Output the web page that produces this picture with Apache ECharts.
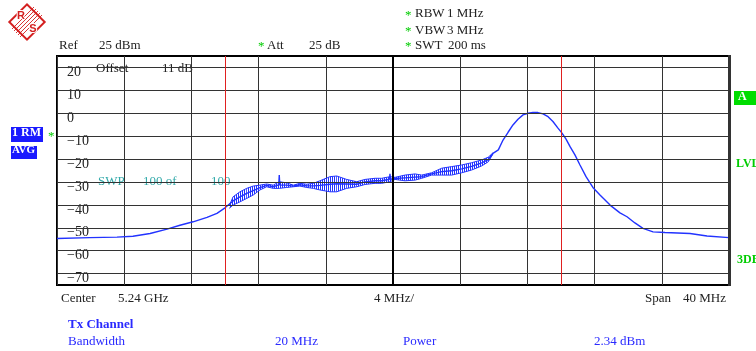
<!DOCTYPE html>
<html>
<head>
<meta charset="utf-8">
<script src="https://cdn.jsdelivr.net/npm/echarts@6/dist/echarts.min.js"></script>
<style>
  html, body { margin: 0; padding: 0; background: #fff; }
  #chart { width: 756px; height: 351px; }
</style>
</head>
<body>
<div id="chart"></div>
<script>
// Spectrum trace: offset from centre frequency (MHz) and level (dBm)
const traceFreq = [-20, -18.04, -16.43, -15.48, -14.46, -13.45, -12.68, -11.90, -11.07, -10.48,
  -10.0, -9.52, -9.11, -8.71, -8.32, -7.92, -7.52, -7.13, -6.80, -6.77, -6.74, -6.33, -5.93,
  -5.54, -5.14, -4.74, -4.35, -3.75, -3.35, -2.76, -2.16, -1.67, -1.07, -0.67, -0.21, -0.18,
  -0.15, 0.12, 0.71, 1.31, 1.71, 2.30, 2.90, 3.49, 4.09, 4.68, 5.28, 5.67, 5.95, 6.27, 6.55,
  6.85, 7.14, 7.44, 7.74, 8.04, 8.33, 8.63, 8.93, 9.23, 9.52, 9.82, 10.06, 10.30, 10.54, 10.83,
  11.13, 11.49, 11.90, 12.32, 12.92, 13.51, 13.93, 14.40, 14.88, 15.48, 16.19, 17.68, 18.69, 20.0];
const traceLevel = [-54.7, -54.3, -54.1, -53.7, -52.5, -50.6, -48.9, -47.4, -45.5, -43.7,
  -41.3, -38.3, -36.5, -35.0, -33.8, -32.5, -31.5, -32.1, -31.3, -27.0, -31.3, -31.4, -31.8,
  -31.2, -31.7, -31.7, -31.5, -31.0, -30.8, -30.9, -31.0, -30.0, -29.5, -29.5, -28.8, -26.5,
  -28.8, -28.5, -28.2, -27.9, -27.7, -26.5, -25.5, -25.1, -24.3, -23.2, -21.7, -20.2, -17.5, -16.0, -11.7,
  -8.3, -5.1, -2.6, -0.7, 0.0, 0.3, 0.3, -0.3, -1.5, -3.6, -6.5, -8.7, -11.3, -14.6, -18.2,
  -22.6, -27.7, -32.4, -35.7, -40.1, -43.5, -45.2, -47.9, -50.3, -51.8, -52.1, -52.5, -53.6, -54.3];

// Sweep-to-sweep spread of the averaged trace (min / max per frequency)
const bandFreq = [-9.75, -9.52, -9.11, -8.71, -8.32, -7.92, -7.52, -7.13, -6.77, -6.33, -5.93,
  -5.54, -5.14, -4.74, -4.35, -3.75, -3.35, -2.76, -2.16, -1.67, -1.07, -0.67, -0.18, 0.12,
  0.71, 1.31, 1.71, 2.30, 2.90, 3.49, 4.09, 4.68, 5.28, 5.67, 5.95];
const bandLow = [-41.5, -40.1, -38.7, -37.2, -35.7, -33.5, -32.1, -32.8, -32.8, -32.4, -32.1,
  -31.8, -32.4, -32.8, -33.5, -34.3, -34.3, -32.8, -32.1, -31.1, -30.6, -30.6, -29.9, -28.9,
  -29.5, -29.2, -28.4, -27.0, -27.0, -27.0, -26.0, -24.8, -23.0, -21.2, -17.8];
const bandHigh = [-40.5, -36.5, -34.3, -32.8, -31.8, -31.4, -30.9, -31.4, -29.9, -30.4, -31.4,
  -30.6, -31.0, -30.6, -29.5, -27.7, -27.4, -28.9, -29.9, -28.9, -28.4, -28.4, -27.7, -28.0,
  -27.0, -26.5, -27.0, -26.0, -24.0, -23.3, -22.6, -21.6, -20.4, -19.2, -17.3];

// Display scale
const levelTicks = [20, 10, 0, -10, -20, -30, -40, -50, -60, -70];
const channelEdges = [-10, 10];
const refLevel = 25;
const bottomLevel = -75;

const TRACE = '#2233ff';
const GREEN = '#00cc00';
const TEXT = '#222';
const FONT = 'Liberation Serif';
const LOGO = '#d42020';

// vertical hatch used to fill the spread band
const hatch = document.createElement('canvas');
hatch.width = 2; hatch.height = 2;
const hctx = hatch.getContext('2d');
hctx.fillStyle = TRACE;
hctx.fillRect(0, 0, 1, 2);

function txt(x, y, s, color, extra) {
  return {
    type: 'text', left: x, top: y - 8,
    style: Object.assign({ text: s, fill: color || TEXT, font: '13px "' + FONT + '"' }, extra || {})
  };
}

// diagonal stripes of the logo
const stripes = [];
for (const d of [-4, -2, 0, 2, 4]) {
  stripes.push({ type: 'line', shape: { x1: 11 + d, y1: -11 + d, x2: -11 + d, y2: 11 + d },
    style: { stroke: LOGO, lineWidth: 0.9 } });
}

const graphics = [
  // R&S logo
  { type: 'group', x: 27, y: 22, children: [
    { type: 'rect', rotation: Math.PI / 4, shape: { x: -12.5, y: -12.5, width: 25, height: 25 },
      style: { fill: '#fff', stroke: LOGO, lineWidth: 2 } }
  ].concat(stripes).concat([
    { type: 'text', x: -6, y: -6, style: { text: 'R', fill: LOGO, font: 'bold 11px "Liberation Sans"', align: 'center', verticalAlign: 'middle', stroke: '#fff', lineWidth: 2 } },
    { type: 'text', x: 6, y: 7, style: { text: 'S', fill: LOGO, font: 'bold 11px "Liberation Sans"', align: 'center', verticalAlign: 'middle', stroke: '#fff', lineWidth: 2 } }
  ]) },
  // setup readouts
  txt(405, 17, '*', GREEN), txt(415, 15, 'RBW'), txt(447, 15, '1 MHz'),
  txt(405, 33, '*', GREEN), txt(415, 32, 'VBW'), txt(447, 32, '3 MHz'),
  txt(405, 48, '*', GREEN), txt(415, 47, 'SWT'), txt(448, 47, '200 ms'),
  txt(59, 47, 'Ref'), txt(99, 47, '25 dBm'),
  txt(258, 48, '*', GREEN), txt(267, 47, 'Att'), txt(309, 47, '25 dB'),
  txt(96, 70, 'Offset'), txt(162, 70, '11 dB'),
  txt(98, 183, 'SWP', '#33aaaa'), txt(143, 183, '100 of', '#33aaaa'), txt(211, 183, '100', '#33aaaa'),
  // trace indicator boxes
  { type: 'rect', left: 11, top: 127, shape: { width: 32, height: 15 }, style: { fill: '#1a1aff' } },
  txt(12, 135, '1 RM', '#fff', { font: 'bold 12px "' + FONT + '"' }),
  { type: 'rect', left: 11, top: 146, shape: { width: 26, height: 13 }, style: { fill: '#1a1aff' } },
  txt(12, 153, 'AVG', '#fff', { font: 'bold 11px "' + FONT + '"' }),
  txt(48, 138, '*', GREEN),
  { type: 'rect', left: 734, top: 91, shape: { width: 22, height: 14 }, style: { fill: '#00dd00' } },
  txt(738, 99, 'A', '#fff', { font: 'bold 12px "' + FONT + '"' }),
  txt(736, 166, 'LVL', GREEN, { font: 'bold 12px "' + FONT + '"' }),
  txt(737, 262, '3DB', GREEN, { font: 'bold 12px "' + FONT + '"' }),
  // heavier right-hand frame edge
  { type: 'rect', left: 728, top: 55, shape: { width: 3, height: 231 }, style: { fill: '#333' }, z: 10 },
  // frequency axis annotation
  txt(61, 300, 'Center'), txt(118, 300, '5.24 GHz'),
  txt(374, 300, '4 MHz/'),
  txt(645, 300, 'Span'), txt(683, 300, '40 MHz'),
  // channel power readout
  txt(68, 326, 'Tx Channel', '#2a2aff', { font: 'bold 13px "' + FONT + '"' }),
  txt(68, 343, 'Bandwidth', '#2a2aff'), txt(275, 343, '20 MHz', '#2a2aff'),
  txt(403, 343, 'Power', '#2a2aff'), txt(594, 343, '2.34 dBm', '#2a2aff')
];

// one hatched quadrilateral between consecutive spread samples
function renderSpread(params, api) {
  const i = params.dataIndex;
  if (i >= bandFreq.length - 1) return null;
  const a1 = api.coord([bandFreq[i], bandLow[i]]);
  const a2 = api.coord([bandFreq[i], bandHigh[i]]);
  const b2 = api.coord([bandFreq[i + 1], bandHigh[i + 1]]);
  const b1 = api.coord([bandFreq[i + 1], bandLow[i + 1]]);
  return {
    type: 'polygon',
    shape: { points: [a1, a2, b2, b1] },
    style: { fill: { image: hatch, repeat: 'repeat' }, stroke: null }
  };
}

const chart = echarts.init(document.getElementById('chart'), null, { renderer: 'canvas' });
chart.setOption({
  animation: false,
  backgroundColor: '#fff',
  grid: { left: 57, top: 56, width: 672, height: 229, show: true, borderColor: '#000', borderWidth: 2, backgroundColor: 'transparent' },
  xAxis: {
    type: 'value', min: -20, max: 20, interval: 4,
    axisLine: { show: false }, axisTick: { show: false }, axisLabel: { show: false },
    splitLine: { show: true, lineStyle: { color: '#333', width: 1 } }
  },
  yAxis: {
    type: 'value', min: bottomLevel, max: refLevel,
    axisLine: { show: false },
    axisTick: { show: true, inside: true, length: 4, customValues: levelTicks, lineStyle: { color: '#000' } },
    splitLine: { show: false },
    axisLabel: {
      show: true, inside: true, margin: 10, customValues: levelTicks,
      color: TEXT, fontFamily: FONT, fontSize: 14, verticalAlign: 'top', padding: [-2, 0, 0, 0],
      formatter: v => String(v).replace('-', '\u2212')
    }
  },
  graphic: graphics,
  series: [
    {
      type: 'line', name: 'grid', data: [], silent: true,
      markLine: {
        silent: true, symbol: 'none', label: { show: false }, animation: false,
        lineStyle: { color: '#333', width: 1, type: 'solid' },
        data: levelTicks.map(v => ({ yAxis: v }))
          .concat([{ xAxis: 0, lineStyle: { color: '#000', width: 2 } }])
          .concat(channelEdges.map(v => ({ xAxis: v, lineStyle: { color: '#e02020', width: 1 } })))
      }
    },
    {
      type: 'custom', name: 'spread', silent: true,
      renderItem: renderSpread,
      data: bandFreq.map((f, i) => [f, bandLow[i], bandHigh[i]]),
      encode: { x: 0, y: [1, 2] }
    },
    {
      type: 'line', name: 'spreadLow', showSymbol: false, silent: true,
      data: bandFreq.map((f, i) => [f, bandLow[i]]),
      lineStyle: { color: TRACE, width: 1 }
    },
    {
      type: 'line', name: 'spreadHigh', showSymbol: false, silent: true,
      data: bandFreq.map((f, i) => [f, bandHigh[i]]),
      lineStyle: { color: TRACE, width: 1 }
    },
    {
      type: 'line', name: 'trace', showSymbol: false, silent: true,
      data: traceFreq.map((f, i) => [f, traceLevel[i]]),
      lineStyle: { color: TRACE, width: 1.4 }
    }
  ]
});
</script>
</body>
</html>
